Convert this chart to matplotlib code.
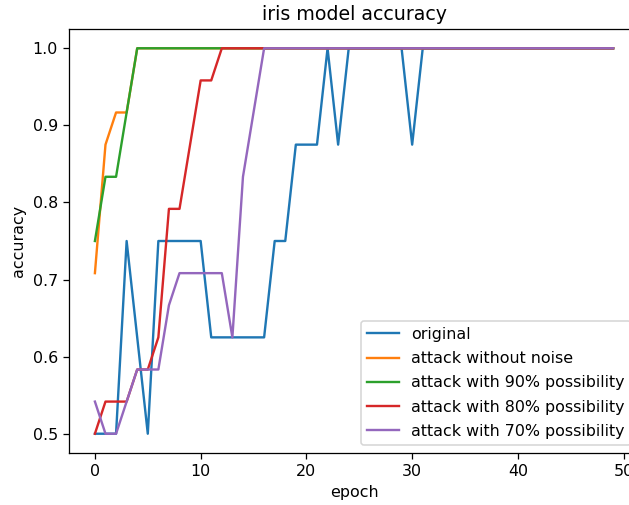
import matplotlib
matplotlib.use("Agg")
import matplotlib.pyplot as plt

epochs = list(range(50))

original = ([0.5, 0.5, 0.5, 0.75, 0.625, 0.5, 0.75, 0.75, 0.75, 0.75, 0.75,
             0.625, 0.625, 0.625, 0.625, 0.625, 0.625, 0.75, 0.75, 0.875, 0.875,
             0.875, 1.0, 0.875, 1.0, 1.0, 1.0, 1.0, 1.0, 1.0, 0.875] + [1.0] * 19)
no_noise = [0.7083, 0.875, 0.9167, 0.9167] + [1.0] * 46
p90 = [0.75, 0.8333, 0.8333, 0.9167] + [1.0] * 46
p80 = ([0.5, 0.5417, 0.5417, 0.5417, 0.5833, 0.5833, 0.625, 0.7917, 0.7917,
        0.875, 0.9583, 0.9583] + [1.0] * 38)
p70 = ([0.5417, 0.5, 0.5, 0.5417, 0.5833, 0.5833, 0.5833, 0.6667, 0.7083,
        0.7083, 0.7083, 0.7083, 0.7083, 0.625, 0.8333, 0.9167] + [1.0] * 34)

series = [
    ("original", original),
    ("attack without noise", no_noise),
    ("attack with 90% possibility", p90),
    ("attack with 80% possibility", p80),
    ("attack with 70% possibility", p70),
]

DPI = 114  # reference was rendered a bit larger than the 100 dpi default
W, H = 629, 505

fig = plt.figure(figsize=(W / DPI, H / DPI), dpi=DPI)
# axes run past the right edge, as in the cropped reference
ax = fig.add_axes([69 / W, 52 / H, 570 / W, 424 / H])
for label, vals in series:
    ax.plot(epochs, vals, label=label)

ax.set_title("iris model accuracy")
ax.set_xlabel("epoch")
ax.set_ylabel("accuracy")
ax.legend(loc="lower right", labelspacing=0.58)
fig.savefig("out.png", dpi=DPI)
